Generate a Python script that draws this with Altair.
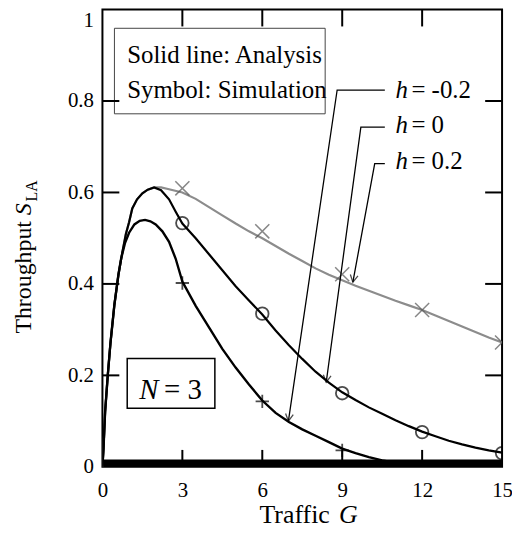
import altair as alt
import pandas as pd

# ---------------- data ----------------
rise_G = [0, 0.04, 0.1, 0.2, 0.3, 0.45, 0.6, 0.75, 0.88, 1.0, 1.12, 1.3, 1.5, 1.7, 1.94]
rise_S = [0, 0.04, 0.12, 0.2, 0.27, 0.355, 0.42, 0.47, 0.509, 0.535, 0.565, 0.585, 0.598, 0.606, 0.611]

h02_G = rise_G + [2.2, 2.5, 3, 3.5, 4, 4.5, 5, 5.5, 6, 6.5, 7, 7.5, 8, 8.5, 9, 9.5, 10,
                  10.5, 11, 11.5, 12, 12.5, 13, 13.5, 14, 14.5, 15]
h02_S = rise_S + [0.611, 0.607, 0.6, 0.586, 0.568, 0.55, 0.532, 0.515, 0.5, 0.483, 0.466,
                  0.45, 0.434, 0.42, 0.408, 0.396, 0.385, 0.374, 0.363, 0.353, 0.343,
                  0.331, 0.319, 0.307, 0.295, 0.283, 0.272]

h0_G = rise_G + [2.2, 2.5, 2.75, 3, 3.5, 4, 4.5, 5, 5.5, 6, 6.5, 7, 7.5, 8, 8.5, 9, 9.5, 10,
                 10.5, 11, 11.5, 12, 12.5, 13, 13.5, 14, 14.5, 15]
h0_S = rise_S + [0.605, 0.585, 0.558, 0.532, 0.5, 0.465, 0.43, 0.395, 0.364, 0.333, 0.298,
                 0.266, 0.236, 0.208, 0.184, 0.163, 0.146, 0.13, 0.116, 0.102, 0.089,
                 0.077, 0.067, 0.057, 0.049, 0.042, 0.036, 0.031]

hm02_G = [0, 0.04, 0.1, 0.2, 0.3, 0.45, 0.6, 0.7, 0.85, 1.0, 1.2, 1.4, 1.6, 1.8, 2.0, 2.25,
          2.5, 2.75, 3, 3.5, 4, 4.5, 5, 5.5, 6, 6.5, 7, 7.5, 8, 8.5, 9, 9.5, 10, 10.5, 11]
hm02_S = [0, 0.04, 0.12, 0.2, 0.27, 0.355, 0.42, 0.455, 0.49, 0.512, 0.53, 0.538, 0.54,
          0.537, 0.53, 0.515, 0.492, 0.455, 0.405, 0.352, 0.305, 0.258, 0.217, 0.18,
          0.145, 0.118, 0.098, 0.082, 0.068, 0.054, 0.04, 0.03, 0.021, 0.014, 0.009]

# simulation symbols
sim_G_x = [3, 6, 9, 12, 15]
sim_S_x = [0.609, 0.515, 0.421, 0.343, 0.272]      # h = 0.2  (x)
sim_G_o = [3, 6, 9, 12, 15]
sim_S_o = [0.533, 0.335, 0.161, 0.076, 0.03]       # h = 0    (o)
sim_G_p = [3, 6, 9]
sim_S_p = [0.402, 0.143, 0.036]                    # h = -0.2 (+)

# annotations
ann_rest = ["= -0.2", "= 0", "= 0.2"]
ann_text_G = [11.0, 11.0, 11.0]
ann_text_S = [0.807, 0.731, 0.651]
lead_end_G = [10.6, 10.6, 10.6]
lead_corner_G = [8.81, 9.70, 10.22]
lead_corner_S = [0.824, 0.743, 0.663]
lead_tip_G = [6.98, 8.40, 9.40]
lead_tip_S = [0.100, 0.185, 0.404]
arrow_angle = [8.4, 7.8, 10.5]

legend_lines = ["Solid line: Analysis", "Symbol: Simulation"]
legend_G = [0.93, 0.93]
legend_S = [0.883, 0.807]
legend_box = {"G": 0.45, "G2": 8.36, "S": 0.959, "S2": 0.772}
nbox = {"G": 0.93, "G2": 4.22, "S": 0.237, "S2": 0.128}
band_top = 0.016

x_ticks = [0, 3, 6, 9, 12, 15]
y_ticks = [0, 0.2, 0.4, 0.6, 0.8, 1]
inner_x = [3, 6, 9, 12]
inner_y = [0.2, 0.4, 0.6, 0.8]

SERIF = "Liberation Serif"
W, H = 402, 460

# ---------------- frames ----------------
curves = pd.concat([
    pd.DataFrame({"G": h02_G, "S": h02_S, "h": "0.2"}),
    pd.DataFrame({"G": h0_G, "S": h0_S, "h": "0"}),
    pd.DataFrame({"G": hm02_G, "S": hm02_S, "h": "-0.2"}),
])
curves["i"] = range(len(curves))

xs = alt.X("G:Q", scale=alt.Scale(domain=[0, 15], nice=False, zero=False),
           axis=alt.Axis(values=x_ticks, ticks=False, grid=False, domain=False,
                         labelFont=SERIF, labelFontSize=21, labelColor="black",
                         labelPadding=13, title=None, labelFlush=False))
ys = alt.Y("S:Q", scale=alt.Scale(domain=[0, 1], nice=False, zero=False),
           axis=alt.Axis(values=y_ticks, ticks=False, grid=False, domain=False,
                         labelFont=SERIF, labelFontSize=21, labelColor="black",
                         labelPadding=9, title=None, format="~g",
                         labelBaseline=alt.condition("datum.value == 1",
                                                     alt.value("top"), alt.value("middle"))))
xp = alt.X("G:Q", scale=alt.Scale(domain=[0, 15], nice=False, zero=False))
yp = alt.Y("S:Q", scale=alt.Scale(domain=[0, 1], nice=False, zero=False))

band = alt.Chart(pd.DataFrame({"G": [0], "G2": [15], "S": [0], "S2": [band_top]})).mark_rect(
    color="black").encode(x=xs, x2="G2:Q", y=ys, y2="S2:Q")

line_h02 = alt.Chart(curves[curves.h == "0.2"]).mark_line(
    color="#8c8c8c", strokeWidth=2.2, clip=True).encode(x=xp, y=yp, order="i:Q")
line_h0 = alt.Chart(curves[curves.h == "0"]).mark_line(
    color="black", strokeWidth=2.2, clip=True).encode(x=xp, y=yp, order="i:Q")
line_hm = alt.Chart(curves[curves.h == "-0.2"]).mark_line(
    color="black", strokeWidth=2.4, clip=True).encode(x=xp, y=yp, order="i:Q")

pts_x = alt.Chart(pd.DataFrame({"G": sim_G_x, "S": sim_S_x})).mark_point(
    shape="M -1 -1 L 1 1 M -1 1 L 1 -1", size=200, filled=False, color="#555555",
    strokeWidth=1.5, clip=True).encode(x=xp, y=yp)
pts_o = alt.Chart(pd.DataFrame({"G": sim_G_o, "S": sim_S_o})).mark_point(
    shape="circle", size=160, filled=False, color="black", strokeWidth=1.8,
    clip=True).encode(x=xp, y=yp)
pts_p = alt.Chart(pd.DataFrame({"G": sim_G_p, "S": sim_S_p})).mark_point(
    shape="M -1 0 L 1 0 M 0 -1 L 0 1", size=180, filled=False, color="black",
    strokeWidth=1.8, clip=True).encode(x=xp, y=yp)

# leader lines
lead_rows = []
for k in range(3):
    lead_rows += [
        {"k": k, "o": 0, "G": lead_end_G[k], "S": lead_corner_S[k]},
        {"k": k, "o": 1, "G": lead_corner_G[k], "S": lead_corner_S[k]},
        {"k": k, "o": 2, "G": lead_tip_G[k], "S": lead_tip_S[k]},
    ]
leaders = alt.Chart(pd.DataFrame(lead_rows)).mark_line(color="black", strokeWidth=1.3).encode(
    x=xp, y=yp, detail="k:N", order="o:Q")
arrows = alt.Chart(pd.DataFrame({"G": lead_tip_G, "S": lead_tip_S, "a": arrow_angle})).mark_point(
    shape="M -0.55 -1 L 0 0 L 0.55 -1", size=200, filled=False, color="black",
    strokeWidth=1.3).encode(x=xp, y=yp, angle=alt.Angle("a:Q", scale=None))

ann_df = pd.DataFrame({"G": ann_text_G, "S": ann_text_S, "rest": ann_rest})
ann_h = alt.Chart(ann_df).mark_text(text="h", font=SERIF, fontSize=25, fontStyle="italic",
                                    align="left", baseline="alphabetic").encode(x=xp, y=yp)
ann_r = alt.Chart(ann_df).mark_text(font=SERIF, fontSize=25, align="left",
                                    baseline="alphabetic", dx=16).encode(x=xp, y=yp, text="rest:N")

# legend box
lbox = alt.Chart(pd.DataFrame([legend_box])).mark_rect(
    fill="white", stroke="#444444", strokeWidth=1).encode(x=xp, x2="G2:Q", y=yp, y2="S2:Q")
ltext = alt.Chart(pd.DataFrame({"G": legend_G, "S": legend_S, "t": legend_lines})).mark_text(
    font=SERIF, fontSize=25, align="left", baseline="alphabetic").encode(x=xp, y=yp, text="t:N")

# N = 3 box
nb = alt.Chart(pd.DataFrame([nbox])).mark_rect(
    fill="white", stroke="black", strokeWidth=1.5).encode(x=xp, x2="G2:Q", y=yp, y2="S2:Q")
nbase = pd.DataFrame({"G": [nbox["G"] + 0.45], "S": [0.148]})
nt1 = alt.Chart(nbase).mark_text(text="N", font=SERIF, fontSize=29, fontStyle="italic",
                                 align="left", baseline="alphabetic").encode(x=xp, y=yp)
nt2 = alt.Chart(nbase).mark_text(text="= 3", font=SERIF, fontSize=29, align="left",
                                 baseline="alphabetic", dx=25).encode(x=xp, y=yp)

# inward ticks
TL = 17
tick_l = alt.Chart(pd.DataFrame({"S": inner_y})).mark_rule(color="black", strokeWidth=2).encode(
    y=yp, x=alt.value(0), x2=alt.value(TL))
tick_r = alt.Chart(pd.DataFrame({"S": inner_y})).mark_rule(color="black", strokeWidth=2).encode(
    y=yp, x=alt.value(W - TL), x2=alt.value(W))
tick_t = alt.Chart(pd.DataFrame({"G": inner_x})).mark_rule(color="black", strokeWidth=2).encode(
    x=xp, y=alt.value(0), y2=alt.value(TL))
tick_b = alt.Chart(pd.DataFrame({"G": inner_x})).mark_rule(color="black", strokeWidth=2).encode(
    x=xp, y=alt.value(H - TL), y2=alt.value(H))

# axis titles (pixel placed, outside plot)
one = pd.DataFrame({"d": [0]})
xt1 = alt.Chart(one).mark_text(text="Traffic", font=SERIF, fontSize=26, align="left",
                               baseline="alphabetic").encode(x=alt.value(158), y=alt.value(517))
xt2 = alt.Chart(one).mark_text(text="G", font=SERIF, fontSize=26, fontStyle="italic",
                               align="left", baseline="alphabetic").encode(x=alt.value(238), y=alt.value(517))
yt1 = alt.Chart(one).mark_text(text="Throughput", font=SERIF, fontSize=24, angle=270,
                               align="left", baseline="alphabetic").encode(x=alt.value(-72), y=alt.value(326))
yt2 = alt.Chart(one).mark_text(text="S", font=SERIF, fontSize=24, fontStyle="italic", angle=270,
                               align="left", baseline="alphabetic").encode(x=alt.value(-72), y=alt.value(207))
yt3 = alt.Chart(one).mark_text(text="LA", font=SERIF, fontSize=16, angle=270,
                               align="left", baseline="alphabetic").encode(x=alt.value(-66), y=alt.value(193))

chart = alt.layer(
    band, line_h02, line_h0, line_hm, pts_x, pts_o, pts_p,
    lbox, ltext, nb, nt1, nt2, leaders, arrows, ann_h, ann_r,
    tick_l, tick_r, tick_t, tick_b, xt1, xt2, yt1, yt2, yt3,
).encode().properties(
    width=W, height=H,
    autosize=alt.AutoSizeParams(type="none"),
    padding={"left": 95, "top": 0, "right": 10, "bottom": 63},
).configure_view(stroke="black", strokeWidth=2).configure_axis(labelFont=SERIF)

chart.save("out.html", embed_options={"renderer": "svg", "actions": False})
